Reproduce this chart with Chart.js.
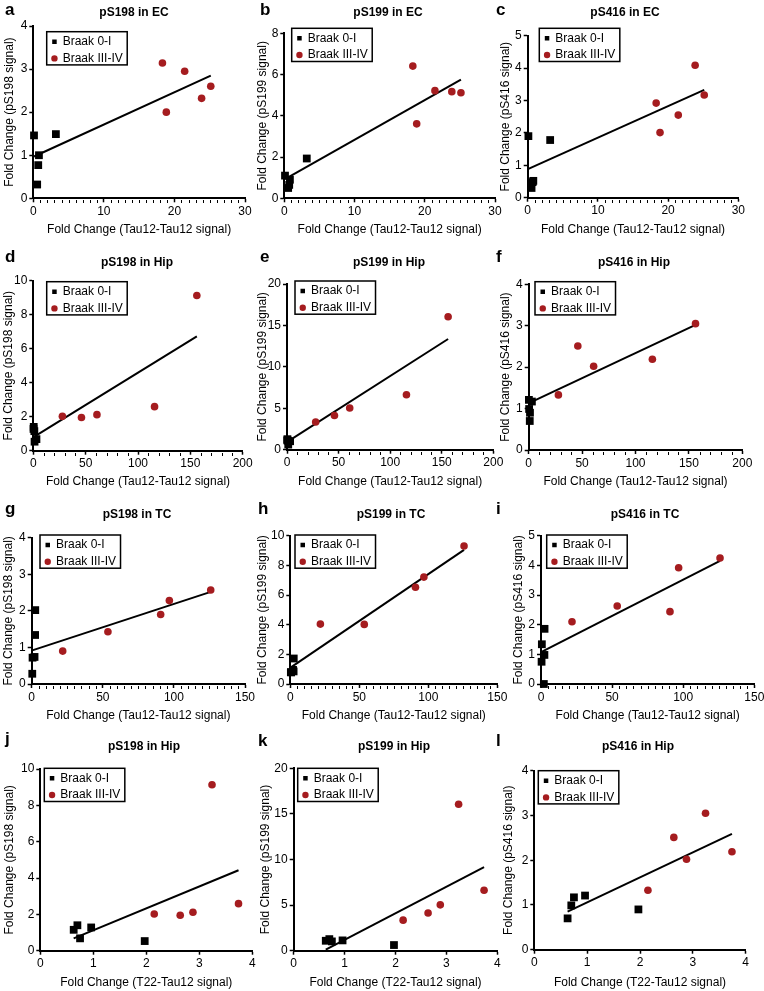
<!DOCTYPE html>
<html>
<head>
<meta charset="utf-8">
<script src="https://cdn.jsdelivr.net/npm/chart.js@4.4.1/dist/chart.umd.min.js"></script>
<style>
  html, body { margin:0; padding:0; background:#fff; }
  body { width:764px; height:991px; position:relative; overflow:hidden; }
  canvas { position:absolute; }
</style>
</head>
<body>
<script>
// ---------- data ----------
// EC, x = Tau12-Tau12 fold change
const ecBlackX = [0.1, 3.2, 0.8, 0.7, 0.55];
const ecRedX   = [18.3, 18.85, 21.45, 23.85, 25.15];
const pS198EcBlack = [1.46, 1.49, 1.0, 0.77, 0.32];
const pS198EcRed   = [3.14, 2.0, 2.95, 2.32, 2.6];
const pS199EcBlack = [1.1, 1.93, 0.9, 0.65, 0.5];
const pS199EcRed   = [6.41, 3.61, 5.22, 5.17, 5.12];
const pS416EcBlack = [1.9, 1.78, 0.52, 0.48, 0.3];
const pS416EcRed   = [2.92, 2.01, 2.55, 4.09, 3.17];

// Hip, x = Tau12-Tau12 or T22-Tau12 fold change (same samples)
const hipBlackX = [1.0, 0.4, 3.0, 0.2, 1.2];
const hipRedX   = [27.8, 46, 60.8, 156.2, 115.8];
const t22BlackX = [0.63, 0.7, 0.75, 0.96, 1.97];
const t22RedX   = [2.15, 2.64, 2.88, 3.24, 3.74];
const pS198HipBlack = [1.15, 1.4, 0.68, 1.28, 0.53];
const pS198HipRed   = [2.02, 1.95, 2.12, 9.13, 2.59];
const pS199HipBlack = [1.09, 1.27, 1.02, 1.13, 0.62];
const pS199HipRed   = [3.35, 4.13, 5.03, 16.05, 6.63];
const pS416HipBlack = [0.7, 0.99, 1.17, 1.21, 0.9];
const pS416HipRed   = [1.33, 2.51, 2.02, 3.05, 2.19];

// TC, x = Tau12-Tau12 fold change
const tcBlackX = [2.5, 2.4, 0.6, 2.0, 0.4];
const tcRedX   = [21.8, 53.6, 90.7, 96.8, 125.9];
const pS198TcBlack = [2.02, 1.34, 0.72, 0.74, 0.28];
const pS198TcRed   = [0.9, 1.43, 1.9, 2.28, 2.57];
const pS199TcBlack = [1.72, 0.85, 0.78, 0.95, 0.8];
const pS199TcRed   = [4.04, 4.02, 6.52, 7.21, 9.31];
const pS416TcBlack = [1.86, 0.98, 1.34, 0.0, 0.75];
const pS416TcRed   = [2.1, 2.63, 2.44, 3.92, 4.25];

// regression lines (end points)
const fitAX = [0.1, 25.15],  fitAY = [0.97, 2.85];
const fitBX = [0.1, 25.15],  fitBY = [0.93, 5.75];
const fitCX = [0.1, 25.15],  fitCY = [0.89, 3.33];
const fitDX = [0.2, 156.2],  fitDY = [0.8, 6.73];
const fitEX = [0.2, 156.2],  fitEY = [0.95, 13.36];
const fitFX = [0.2, 156.2],  fitFY = [1.13, 3.02];
const fitGX = [0.4, 125.9],  fitGY = [0.92, 2.52];
const fitHX = [0.4, 125.9],  fitHY = [1.12, 9.04];
const fitIX = [0.4, 125.9],  fitIY = [1.08, 4.15];
const fitJX = [0.63, 3.74],  fitJY = [0.68, 4.43];
const fitKX = [0.63, 3.74],  fitKY = [0.11, 9.16];
const fitLX = [0.63, 3.74],  fitLY = [0.85, 2.59];

const TAU12 = 'Fold Change (Tau12-Tau12 signal)';
const T22 = 'Fold Change (T22-Tau12 signal)';
const FONT = 'Arial, "Liberation Sans", Helvetica, sans-serif';
const RED = '#a51c1f';

Chart.defaults.font.family = FONT;
Chart.defaults.color = '#000';

// canvas: [left, top, width, height]   axes: [y-axis x, top tick y, right tick x, x-axis y]
const panels = [
  {letter:'a', title:'pS198 in EC', yLabel:'Fold Change (pS198 signal)', xLabel:TAU12,
   bx:ecBlackX, by:pS198EcBlack, rx:ecRedX, ry:pS198EcRed, fx:fitAX, fy:fitAY,
   xMax:30, xStep:10, xMinor:1, yMax:4, yStep:1,
   canvas:[0,0,257,238], axes:[32.3,26,245,199.3], yTitleX:9.3, legendAt:[46.7,31.7], letterAt:[5,15], titleAt:[134,13]},
  {letter:'b', title:'pS199 in EC', yLabel:'Fold Change (pS199 signal)', xLabel:TAU12,
   bx:ecBlackX, by:pS199EcBlack, rx:ecRedX, ry:pS199EcRed, fx:fitBX, fy:fitBY,
   xMax:30, xStep:10, xMinor:1, yMax:8, yStep:2,
   canvas:[252,0,255,238], axes:[283.3,33.3,495,199.3], yTitleX:263, legendAt:[291.7,28.3], letterAt:[260,15], titleAt:[388,13]},
  {letter:'c', title:'pS416 in EC', yLabel:'Fold Change (pS416 signal)', xLabel:TAU12,
   bx:ecBlackX, by:pS416EcBlack, rx:ecRedX, ry:pS416EcRed, fx:fitCX, fy:fitCY,
   xMax:30, xStep:10, xMinor:1, yMax:5, yStep:1,
   canvas:[490,0,260,238], axes:[526.7,35.7,738.3,198.7], yTitleX:506, legendAt:[539.3,28.3], letterAt:[496,15], titleAt:[625,13]},

  {letter:'d', title:'pS198 in Hip', yLabel:'Fold Change (pS198 signal)', xLabel:TAU12,
   bx:hipBlackX, by:pS198HipBlack, rx:hipRedX, ry:pS198HipRed, fx:fitDX, fy:fitDY,
   xMax:200, xStep:50, xMinor:10, yMax:10, yStep:2,
   canvas:[0,244,255,246], axes:[32.3,280.7,242.7,451.7], yTitleX:9, legendAt:[46.7,281.7], letterAt:[5,262], titleAt:[137,262.5]},
  {letter:'e', title:'pS199 in Hip', yLabel:'Fold Change (pS199 signal)', xLabel:TAU12,
   bx:hipBlackX, by:pS199HipBlack, rx:hipRedX, ry:pS199HipRed, fx:fitEX, fy:fitEY,
   xMax:200, xStep:50, xMinor:10, yMax:20, yStep:5,
   canvas:[252,244,253,246], axes:[286,284,493.3,450.7], yTitleX:263, legendAt:[295,281], letterAt:[260,262], titleAt:[389,262.5]},
  {letter:'f', title:'pS416 in Hip', yLabel:'Fold Change (pS416 signal)', xLabel:TAU12,
   bx:hipBlackX, by:pS416HipBlack, rx:hipRedX, ry:pS416HipRed, fx:fitFX, fy:fitFY,
   xMax:200, xStep:50, xMinor:10, yMax:4, yStep:1,
   canvas:[490,244,264,246], axes:[527.7,284.3,742.3,451], yTitleX:506, legendAt:[535,281.7], letterAt:[496,262], titleAt:[634,262.5]},

  {letter:'g', title:'pS198 in TC', yLabel:'Fold Change (pS198 signal)', xLabel:TAU12,
   bx:tcBlackX, by:pS198TcBlack, rx:tcRedX, ry:pS198TcRed, fx:fitGX, fy:fitGY,
   xMax:150, xStep:50, xMinor:5, yMax:4, yStep:1,
   canvas:[0,494,257,230], axes:[30.7,537.7,245,685], yTitleX:9, legendAt:[40,535], letterAt:[5,514], titleAt:[137,515]},
  {letter:'h', title:'pS199 in TC', yLabel:'Fold Change (pS199 signal)', xLabel:TAU12,
   bx:tcBlackX, by:pS199TcBlack, rx:tcRedX, ry:pS199TcRed, fx:fitHX, fy:fitHY,
   xMax:150, xStep:50, xMinor:5, yMax:10, yStep:2,
   canvas:[252,494,257,230], axes:[289.3,535.7,497.3,685], yTitleX:262.5, legendAt:[295,535], letterAt:[258,514], titleAt:[391,515]},
  {letter:'i', title:'pS416 in TC', yLabel:'Fold Change (pS416 signal)', xLabel:TAU12,
   bx:tcBlackX, by:pS416TcBlack, rx:tcRedX, ry:pS416TcRed, fx:fitIX, fy:fitIY,
   xMax:150, xStep:50, xMinor:5, yMax:5, yStep:1,
   canvas:[490,494,274,230], axes:[540,535.7,754.3,685], yTitleX:519, legendAt:[546.7,535], letterAt:[496,514], titleAt:[645,515]},

  {letter:'j', title:'pS198 in Hip', yLabel:'Fold Change (pS198 signal)', xLabel:T22,
   bx:t22BlackX, by:pS198HipBlack, rx:t22RedX, ry:pS198HipRed, fx:fitJX, fy:fitJY,
   xMax:4, xStep:1, xMinor:0, yMax:10, yStep:2,
   canvas:[0,720,264,271], axes:[39.3,769,252.3,951.7], yTitleX:10, legendAt:[44.3,768.3], letterAt:[5,744], titleAt:[144,747]},
  {letter:'k', title:'pS199 in Hip', yLabel:'Fold Change (pS199 signal)', xLabel:T22,
   bx:t22BlackX, by:pS199HipBlack, rx:t22RedX, ry:pS199HipRed, fx:fitKX, fy:fitKY,
   xMax:4, xStep:1, xMinor:0, yMax:20, yStep:5,
   canvas:[252,720,257,271], axes:[292.7,768.3,497.3,951.7], yTitleX:266, legendAt:[297.7,768.3], letterAt:[258,746], titleAt:[394,747]},
  {letter:'l', title:'pS416 in Hip', yLabel:'Fold Change (pS416 signal)', xLabel:T22,
   bx:t22BlackX, by:pS416HipBlack, rx:t22RedX, ry:pS416HipRed, fx:fitLX, fy:fitLY,
   xMax:4, xStep:1, xMinor:0, yMax:4, yStep:1,
   canvas:[490,720,268,271], axes:[533.3,770.7,745.7,950.7], yTitleX:509, legendAt:[538.3,770.7], letterAt:[496,746], titleAt:[638,747]}
];

function pts(xs, ys) {
  return xs.map((x, i) => ({x: x, y: ys[i]}));
}

// small unlabelled ticks between the major x ticks
const minorTicks = {
  id: 'minorTicks',
  afterDraw(chart, args, opts) {
    if (!opts.step) return;
    const sx = chart.scales.x, ctx = chart.ctx;
    const y0 = Math.round(sx.top - 1) + 3;
    const n = Math.round(sx.max / opts.step);
    ctx.save();
    ctx.strokeStyle = '#000';
    ctx.lineWidth = 1;
    ctx.beginPath();
    for (let i = 1; i < n; i++) {
      const v = i * opts.step;
      if (Math.abs(v / opts.major - Math.round(v / opts.major)) < 1e-9) continue;
      const px = Math.round(sx.getPixelForValue(v)) + 0.5;
      ctx.moveTo(px, y0);
      ctx.lineTo(px, y0 + 3);
    }
    ctx.stroke();
    ctx.restore();
  }
};

// move the legend to its spot inside the plot and draw the frame around it
const legendFrame = {
  id: 'legendFrame',
  afterLayout(chart, args, opts) {
    const lg = chart.legend, pad = lg.options.labels.padding;
    lg.left = opts.x + 5.5 - pad;
    lg.top = opts.y + 4 - pad;
  },
  afterDraw(chart, args, opts) {
    const lg = chart.legend, ctx = chart.ctx;
    const boxes = lg.legendHitBoxes;
    const pad = lg.options.labels.padding;
    const w = Math.max(...boxes.map(b => b.width)) + 10;
    const h = boxes.reduce((s, b) => s + b.height, 0) + pad * (boxes.length - 1) + 4.5;
    ctx.save();
    ctx.strokeStyle = '#000';
    ctx.lineWidth = 1.5;
    ctx.strokeRect(opts.x, opts.y, w, h);
    ctx.restore();
  }
};

// panel letter and panel title
const panelText = {
  id: 'panelText',
  afterDraw(chart, args, opts) {
    const ctx = chart.ctx;
    ctx.save();
    ctx.fillStyle = '#000';
    ctx.font = 'bold 17px ' + FONT;
    ctx.textAlign = 'left';
    ctx.textBaseline = 'alphabetic';
    ctx.fillText(opts.letter, opts.lx, opts.ly);
    ctx.font = 'bold 12px ' + FONT;
    ctx.textAlign = 'center';
    ctx.textBaseline = 'middle';
    ctx.fillText(opts.title, opts.tx, opts.ty);
    ctx.restore();
  }
};

panels.forEach(p => {
  const [cx, cy, cw, ch] = p.canvas;
  const [axL, axT, axR, axB] = p.axes;
  const el = document.createElement('canvas');
  el.width = cw;
  el.height = ch;
  el.style.left = cx + 'px';
  el.style.top = cy + 'px';
  document.body.appendChild(el);

  const yWidth = axL + 1 - cx;
  const xHeight = cy + ch - (axB - 1);

  new Chart(el, {
    type: 'scatter',
    data: {
      datasets: [
        {label:'Braak 0-I', data:pts(p.bx, p.by), pointStyle:'rect', pointRadius:5.5,
         backgroundColor:'#000', borderWidth:0, clip:false},
        {label:'Braak III-IV', data:pts(p.rx, p.ry), pointStyle:'circle', pointRadius:3.8,
         backgroundColor:RED, borderWidth:0, clip:false},
        {label:'fit', data:pts(p.fx, p.fy), showLine:true, pointRadius:0,
         borderColor:'#000', borderWidth:2, fill:false, clip:false}
      ]
    },
    options: {
      responsive: false,
      animation: false,
      devicePixelRatio: 1,
      events: [],
      layout: { padding: { left:0, top: axT - cy, right: cx + cw - axR, bottom:0 } },
      plugins: {
        tooltip: { enabled:false },
        legend: {
          position: 'chartArea',
          align: 'start',
          labels: {
            usePointStyle: true, boxWidth: 4.5, boxHeight: 4.5, padding: 4.7,
            color: '#000', font: { family: FONT, size: 12 },
            filter: item => item.datasetIndex < 2
          }
        },
        minorTicks: { step: p.xMinor, major: p.xStep },
        legendFrame: { x: p.legendAt[0] - cx, y: p.legendAt[1] - cy },
        panelText: { letter: p.letter, lx: p.letterAt[0] - cx, ly: p.letterAt[1] - cy,
                     title: p.title, tx: p.titleAt[0] - cx, ty: p.titleAt[1] - cy }
      },
      scales: {
        x: {
          type: 'linear', position: 'bottom', min: 0, max: p.xMax,
          ticks: { stepSize: p.xStep, color:'#000', font:{ size:12 }, padding: 2, maxRotation: 0, autoSkip: false },
          grid: { display:true, drawOnChartArea:false, drawTicks:true, tickLength:4, tickColor:'#000', tickWidth:1.5 },
          border: { display:true, color:'#000', width:2 },
          title: { display:true, text:p.xLabel, color:'#000', font:{ size:12 }, padding:{ top:0, bottom:1 } },
          afterFit: s => { s.height = xHeight; s.paddingLeft = 0; s.paddingRight = 0; s.paddingTop = 0; s.paddingBottom = 0; }
        },
        y: {
          type: 'linear', position: 'left', min: 0, max: p.yMax,
          ticks: { stepSize: p.yStep, color:'#000', font:{ size:12 }, padding: 2 },
          grid: { display:true, drawOnChartArea:false, drawTicks:true, tickLength:4, tickColor:'#000', tickWidth:1.5 },
          border: { display:true, color:'#000', width:2 },
          title: { display:true, text:p.yLabel, color:'#000', font:{ size:12 },
                   padding:{ top: p.yTitleX - cx - 7.2, bottom:0 } },
          afterFit: s => { s.width = yWidth; s.paddingLeft = 0; s.paddingRight = 0; s.paddingTop = 0; s.paddingBottom = 0; }
        }
      }
    },
    plugins: [minorTicks, legendFrame, panelText]
  });
});
</script>
</body>
</html>
